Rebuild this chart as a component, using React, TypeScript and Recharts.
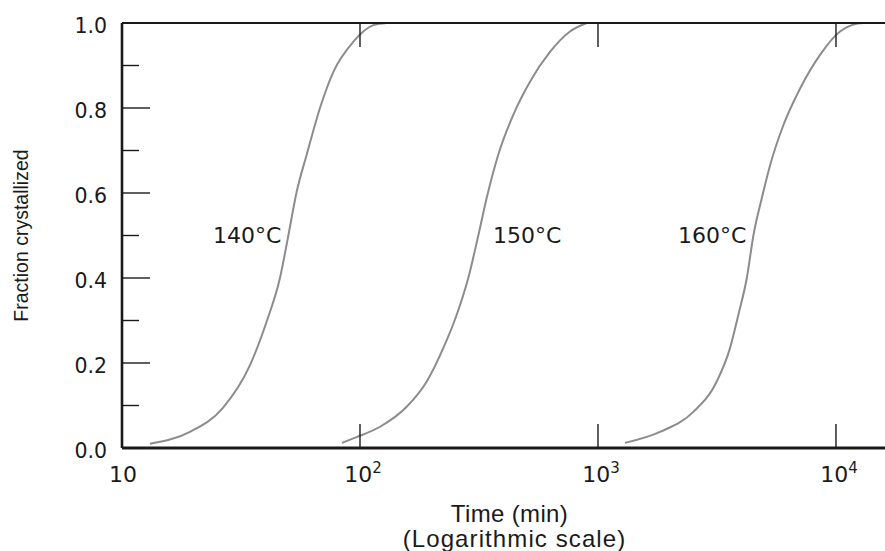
import React from 'react';
import { LineChart, Line, XAxis, YAxis, ReferenceDot, Label } from 'recharts';

// Time (min) and fraction crystallized, per temperature
const t140 = [13.1, 19.3, 26.5, 34.5, 40.5, 46.1, 50.0, 54.2, 59.7, 67.9, 77.3, 93.8, 113.8, 129.4];
const f140 = [0.01, 0.038, 0.094, 0.195, 0.297, 0.4, 0.5, 0.603, 0.69, 0.8, 0.885, 0.956, 0.995, 1.0];

const t150 = [84, 96.2, 121.4, 157.1, 190.5, 223.8, 254.7, 285.1, 314.1, 340.6, 381.0, 440.6, 517.9, 628.6, 762.5, 897];
const f150 = [0.012, 0.025, 0.05, 0.097, 0.156, 0.235, 0.313, 0.4, 0.5, 0.588, 0.69, 0.784, 0.862, 0.932, 0.98, 1.0];

const t160 = [1298, 1823, 2515, 3152, 3587, 3888, 4220, 4498, 4880, 5290, 6015, 7067, 8571, 10400, 13030, 14500];
const f160 = [0.012, 0.038, 0.085, 0.156, 0.235, 0.313, 0.4, 0.5, 0.588, 0.666, 0.76, 0.846, 0.925, 0.98, 1.0, 1.0];

const xTicks = [10, 100, 1000, 10000];
const xTickExp = ['', '2', '3', '4'];
const xDomain = [10, 17700];

const yTicks = [0, 0.1, 0.2, 0.3, 0.4, 0.5, 0.6, 0.7, 0.8, 0.9, 1.0];
const yTickLabels = ['0.0', '', '0.2', '', '0.4', '', '0.6', '', '0.8', '', '1.0'];

const curveLabels = ['140°C', '150°C', '160°C'];
const curveLabelT = [24.1, 362, 2168];
const curveLabelF = [0.482, 0.482, 0.482];

const zip = (t: number[], f: number[]) => t.map((v, i) => ({ t: v, f: f[i] }));
const d140 = zip(t140, f140);
const d150 = zip(t150, f150);
const d160 = zip(t160, f160);

const SANS = "'DejaVu Sans', sans-serif";
const HELV = "'Liberation Sans', Arial, sans-serif";
const INK = '#1a1a1a';
const CURVE = '#8c8c8c';

const BottomTick = (p: any) => {
  const { x, y, index } = p;
  const exp = xTickExp[index];
  return (
    <g>
      <line x1={x} y1={y} x2={x} y2={y - 24} stroke={INK} strokeWidth={1.4} />
      <text x={x + (exp ? 3 : 1)} y={y + 34} textAnchor="middle" fontFamily={SANS} fontSize={22} fill={INK}>
        10
        {exp ? (
          <tspan dy={-9} fontSize={15}>
            {exp}
          </tspan>
        ) : null}
      </text>
    </g>
  );
};

const TopTick = (p: any) => {
  const { x, y } = p;
  return <line x1={x} y1={y} x2={x} y2={y + 24} stroke={INK} strokeWidth={1.4} />;
};

const LeftTick = (p: any) => {
  const { x, y, index } = p;
  const lab = yTickLabels[index];
  const major = lab !== '';
  return (
    <g>
      <line x1={x} y1={y} x2={x + (major ? 28 : 17)} y2={y} stroke={INK} strokeWidth={1.4} />
      {major ? (
        <text x={x - 15} y={y + 10} textAnchor="end" fontFamily={SANS} fontSize={20.5} fill={INK}>
          {lab}
        </text>
      ) : null}
    </g>
  );
};

const RightTick = (p: any) => {
  const { x, y, index } = p;
  const major = yTickLabels[index] !== '';
  return <line x1={x} y1={y} x2={x - (major ? 28 : 17)} y2={y} stroke={INK} strokeWidth={1.4} />;
};

export default function App() {
  return (
    <div
      style={{
        position: 'fixed',
        left: 0,
        top: 0,
        width: 885,
        height: 551,
        overflow: 'hidden',
        background: '#fff',
      }}
    >
      <LineChart width={900} height={551} margin={{ top: 0, right: 0, bottom: 0, left: 0 }}>
        <XAxis
          xAxisId="b"
          orientation="bottom"
          dataKey="t"
          type="number"
          scale="log"
          domain={xDomain}
          allowDataOverflow
          ticks={xTicks}
          interval={0}
          height={103}
          tickLine={false}
          tickSize={0}
          tickMargin={0}
          axisLine={{ stroke: INK, strokeWidth: 3 }}
          tick={(p: any) => <BottomTick {...p} />}
        >
          <Label
            content={(lp: any) => {
              const vb = lp.viewBox || { x: 122, y: 448, width: 773, height: 103 };
              const cx = vb.x + vb.width / 2 + 3;
              return (
                <g>
                  <text x={cx - 2} y={vb.y + 74} textAnchor="middle" fontFamily={HELV} fontSize={24} letterSpacing={0.35} fill={INK}>
                    Time (min)
                  </text>
                  <text x={cx + 3} y={vb.y + 99} textAnchor="middle" fontFamily={HELV} fontSize={24} letterSpacing={1.1} fill={INK}>
                    (Logarithmic scale)
                  </text>
                </g>
              );
            }}
          />
        </XAxis>
        <XAxis
          xAxisId="t"
          orientation="top"
          dataKey="t"
          type="number"
          scale="log"
          domain={xDomain}
          allowDataOverflow
          ticks={xTicks}
          interval={0}
          height={23}
          tickLine={false}
          tickSize={0}
          tickMargin={0}
          axisLine={{ stroke: INK, strokeWidth: 2.2 }}
          tick={(p: any) => <TopTick {...p} />}
        />
        <YAxis
          yAxisId="l"
          orientation="left"
          type="number"
          domain={[0, 1]}
          ticks={yTicks}
          interval={0}
          width={122}
          tickLine={false}
          tickSize={0}
          tickMargin={0}
          axisLine={{ stroke: INK, strokeWidth: 2.6 }}
          tick={(p: any) => <LeftTick {...p} />}
        >
          <Label
            content={(lp: any) => {
              const vb = lp.viewBox || { x: 0, y: 23, width: 122, height: 425 };
              const cy = vb.y + vb.height / 2;
              const x = vb.x + 28;
              return (
                <text
                  x={x}
                  y={cy}
                  transform={`rotate(-90, ${x}, ${cy})`}
                  textAnchor="middle"
                  fontFamily={HELV}
                  fontSize={19.5}
                  fill={INK}
                >
                  Fraction crystallized
                </text>
              );
            }}
          />
        </YAxis>
        <YAxis
          yAxisId="r"
          orientation="right"
          type="number"
          domain={[0, 1]}
          ticks={yTicks}
          interval={0}
          width={5}
          tickLine={false}
          tickSize={0}
          tickMargin={0}
          axisLine={{ stroke: INK, strokeWidth: 2.6 }}
          tick={(p: any) => <RightTick {...p} />}
        />
        <Line xAxisId="b" yAxisId="l" data={d140} dataKey="f" type="monotone" stroke={CURVE} strokeWidth={2} dot={false} isAnimationActive={false} />
        <Line xAxisId="b" yAxisId="l" data={d150} dataKey="f" type="monotone" stroke={CURVE} strokeWidth={2} dot={false} isAnimationActive={false} />
        <Line xAxisId="b" yAxisId="l" data={d160} dataKey="f" type="monotone" stroke={CURVE} strokeWidth={2} dot={false} isAnimationActive={false} />
        {curveLabels.map((lab, i) => (
          <ReferenceDot
            key={lab}
            xAxisId="b"
            yAxisId="l"
            x={curveLabelT[i]}
            y={curveLabelF[i]}
            r={0}
            shape={(sp: any) => (
              <text x={sp.cx} y={sp.cy} textAnchor="start" fontFamily={SANS} fontSize={22} fill={INK}>
                {lab}
              </text>
            )}
          />
        ))}
      </LineChart>
    </div>
  );
}
